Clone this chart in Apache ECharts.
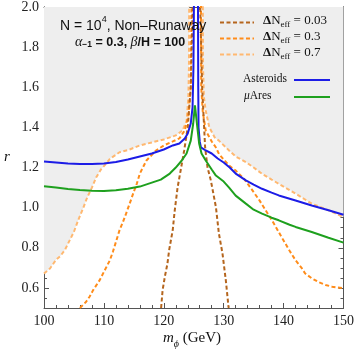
<!DOCTYPE html>
<html><head><meta charset="utf-8">
<script src="https://cdn.jsdelivr.net/npm/echarts@6/dist/echarts.min.js"></script>
<style>html,body{margin:0;padding:0;background:#fff}#c{width:357px;height:349px}</style>
</head><body><div id="c"></div>
<script>
// ---- data ----
const mTicks = [100, 110, 120, 130, 140, 150];
const rTicks = [0.6, 0.8, 1.0, 1.2, 1.4, 1.6, 1.8, 2.0];

// Delta N_eff = 0.7 (upper boundary of the grey excluded region)
const dn07 = [[100,0.672],[101,0.697],[102,0.74],[102.7,0.758],[103.5,0.79],[104.3,0.838],[105,0.88],[105.7,0.937],[106.5,0.995],[107.2,1.05],[108,1.1],[108.7,1.15],[109.5,1.19],[110.4,1.22],[111,1.243],[112.6,1.276],[114.3,1.29],[116,1.31],[118,1.325],[120,1.34],[122,1.36],[123.1,1.384],[123.8,1.43],[124.1,1.55],[124.2,1.7],[124.25,2.1],
  [126.5,2.1],[126.55,1.7],[126.7,1.55],[127,1.483],[127.6,1.40],[128.5,1.35],[129.2,1.334],[130.9,1.285],[132,1.255],[133.7,1.227],[135,1.2],[136.4,1.169],[138,1.14],[139.2,1.119],[142,1.07],[144.7,1.02],[147.5,0.987],[150,0.953]];
// Delta N_eff = 0.3
const dn03 = [[106,0.5],[107,0.53],[107.6,0.556],[108.2,0.589],[109.3,0.639],[110,0.68],[111,0.738],[111.5,0.78],[112.1,0.838],[112.6,0.887],[113.2,0.93],[113.7,0.97],[114.3,1.02],[115,1.08],[115.5,1.12],[116,1.17],[117.1,1.235],[118.7,1.285],[120,1.31],[121.5,1.33],[122.6,1.345],[123.5,1.385],[124.1,1.46],[124.5,1.6],[124.65,2.1],
  [126.2,2.1],[126.25,1.6],[126.5,1.48],[127,1.384],[128,1.33],[128.7,1.30],[129.2,1.268],[130,1.24],[130.9,1.21],[132,1.185],[133.5,1.14],[134.8,1.086],[136,1.035],[137,0.987],[138,0.94],[138.7,0.904],[139.8,0.846],[140.3,0.821],[141,0.785],[142,0.738],[143,0.70],[143.6,0.672],[144.7,0.648],[145.8,0.63],[147,0.615],[148.1,0.606],[150,0.598]];
// Delta N_eff = 0.03
const dn003 = [[119.55,0.5],[119.8,0.589],[120.2,0.66],[120.6,0.72],[120.9,0.79],[121.2,0.84],[121.5,0.89],[121.8,0.98],[122.3,1.1],[122.9,1.2],[123.4,1.285],[124,1.4],[124.5,1.6],[124.9,2.1],
  [126,2.1],[126.4,1.6],[126.9,1.3],[127.3,1.2],[127.85,1.136],[128.4,1.05],[128.7,1.003],[129.2,0.871],[129.8,0.771],[130.35,0.639],[130.8,0.506],[130.85,0.5]];
// Asteroids
const asteroids = [[100,1.23],[102,1.225],[104,1.22],[106,1.217],[108,1.217],[110,1.22],[112,1.228],[114,1.24],[116,1.255],[118,1.27],[120,1.29],[121.5,1.31],[122.6,1.32],[123.5,1.345],[124,1.37],[124.5,1.42],[124.8,1.5],[124.95,1.7],[125.05,2.1],
  [125.7,2.1],[125.75,1.6],[125.8,1.4],[126,1.33],[126.2,1.30],[127,1.285],[128,1.27],[129,1.245],[130,1.225],[131,1.2],[132,1.17],[133.7,1.136],[135,1.115],[136.4,1.094],[138,1.075],[139.2,1.061],[142,1.036],[144.7,1.011],[147.5,0.987],[150,0.965]];
// muAres
const muAres = [[100,1.107],[102,1.1],[104,1.093],[106,1.088],[108,1.084],[110,1.083],[112,1.087],[114,1.094],[116,1.105],[118,1.125],[119.5,1.14],[121,1.17],[122,1.2],[123,1.235],[123.8,1.27],[124.5,1.334],[124.9,1.417],[125.2,1.51],[125.4,1.51],
  [125.6,1.4],[125.9,1.32],[126.3,1.27],[127,1.235],[128,1.19],[128.7,1.16],[130,1.13],[130.9,1.10],[132,1.06],[133.7,1.02],[135,0.99],[136.4,0.97],[138,0.95],[139.2,0.937],[141,0.915],[142,0.904],[144.7,0.879],[147.5,0.85],[150,0.826]];

// ---- derived ----
const rMinor = [];
for (let i = 10; i <= 40; i++) { const v = +(i * 0.05).toFixed(2); if (!rTicks.some(t => Math.abs(t - v) < 1e-6)) rMinor.push(v); }
const fillData = dn07.map(p => [p[0], Math.min(p[1], 2.0)]);

const frame = '#555';
const serif = '"Liberation Serif", "DejaVu Serif", serif';
const sans = '"Liberation Sans", Arial, sans-serif';

function xAx(pos, labels) {
  return { type: 'value', position: pos, min: 100, max: 150, interval: 10,
    axisLine: { show: true, onZero: false, lineStyle: { color: frame, width: 1 } },
    axisTick: { show: true, inside: true, length: 5, lineStyle: { color: frame } },
    minorTick: { show: true, splitNumber: 5, length: 3, lineStyle: { color: frame } },
    axisLabel: { show: labels, margin: 6, color: '#222', fontFamily: serif, fontSize: 14 },
    splitLine: { show: false }, minorSplitLine: { show: false } };
}
function yAx(pos, labels, ticks, len) {
  return { type: 'value', position: pos, min: 0.5, max: 2.0, interval: 0.1,
    axisLine: { show: true, onZero: false, lineStyle: { color: frame, width: 1 } },
    axisTick: { show: true, inside: true, length: len, customValues: ticks, lineStyle: { color: frame } },
    axisLabel: { show: labels, customValues: ticks, margin: 5, color: '#222', fontFamily: serif, fontSize: 14,
      formatter: v => v.toFixed(1) },
    splitLine: { show: false } };
}
function dashed(data, color) {
  return { type: 'line', data, showSymbol: false, symbol: 'none', clip: true, silent: true,
    lineStyle: { color, width: 2, type: [4, 2.5] }, z: 3 };
}
function solid(data, color) {
  return { type: 'line', data, showSymbol: false, symbol: 'none', clip: true, silent: true,
    lineStyle: { color, width: 2 }, z: 4 };
}
const cDark = '#b5651d', cMid = '#ff8c1a', cLight = '#ffb870', cBlue = '#1c1ce6', cGreen = '#1ea01e';

function legRich() {
  return { d: { fontFamily: serif, fontWeight: 'bold', fontSize: 13, fill: '#111', lineHeight: 16, verticalAlign: 'bottom' },
           n: { fontFamily: serif, fontSize: 13, fill: '#111', lineHeight: 16, verticalAlign: 'bottom' },
           e: { fontFamily: serif, fontSize: 9, fill: '#111', lineHeight: 16, verticalAlign: 'bottom', padding: [0, 0, -2, 0] } };
}

const chart = echarts.init(document.getElementById('c'), null, { renderer: 'canvas' });
chart.setOption({
  animation: false,
  backgroundColor: '#fff',
  grid: { left: 44, right: 12, top: 6, bottom: 41, containLabel: false },
  xAxis: [xAx('bottom', true), xAx('top', false)],
  yAxis: [yAx('left', true, rTicks, 5), yAx('left', false, rMinor, 3), yAx('right', false, rTicks, 5), yAx('right', false, rMinor, 3)],
  series: [
    { type: 'line', data: fillData, showSymbol: false, symbol: 'none', silent: true, clip: true,
      lineStyle: { width: 0, opacity: 0 }, areaStyle: { color: '#eeeeee', opacity: 1, origin: 'end' }, z: 1 },
    dashed(dn07, cLight),
    dashed(dn03, cMid),
    dashed(dn003, cDark),
    solid(asteroids, cBlue),
    solid(muAres, cGreen)
  ],
  graphic: [
    { type: 'text', left: 60, top: 15, z: 10, style: {
      text: '{a|N = 10}{s|4}{a|, Non–Runaway}',
      rich: { a: { fontFamily: sans, fontSize: 14, fill: '#111', lineHeight: 18, verticalAlign: 'bottom' },
              s: { fontFamily: sans, fontSize: 9, fill: '#111', lineHeight: 18, verticalAlign: 'top' } } } },
    { type: 'text', left: 75, top: 35, z: 10, style: {
      text: '{g|α}{sub|−1}{b| = 0.3, }{g|β}{b|/H = 100}',
      rich: { g: { fontFamily: serif, fontStyle: 'italic', fontSize: 14, fill: '#111', lineHeight: 16, verticalAlign: 'bottom' },
              sub: { fontFamily: sans, fontWeight: 'bold', fontSize: 8.5, fill: '#111', lineHeight: 16, verticalAlign: 'bottom' },
              b: { fontFamily: sans, fontWeight: 'bold', fontSize: 12.5, fill: '#111', lineHeight: 16, verticalAlign: 'bottom' } } } },
    // legend: dashed samples
    { type: 'line', z: 10, shape: { x1: 220, y1: 22.5, x2: 254, y2: 22.5 }, style: { stroke: cDark, lineWidth: 2, lineDash: [4, 2.5] } },
    { type: 'line', z: 10, shape: { x1: 220, y1: 38.5, x2: 254, y2: 38.5 }, style: { stroke: cMid, lineWidth: 2, lineDash: [4, 2.5] } },
    { type: 'line', z: 10, shape: { x1: 220, y1: 54.5, x2: 254, y2: 54.5 }, style: { stroke: cLight, lineWidth: 2, lineDash: [4, 2.5] } },
    { type: 'text', left: 263, top: 14, z: 10, style: { text: '{d|Δ}{n|N}{e|eff}{n| = 0.03}', rich: legRich() } },
    { type: 'text', left: 263, top: 30, z: 10, style: { text: '{d|Δ}{n|N}{e|eff}{n| = 0.3}', rich: legRich() } },
    { type: 'text', left: 263, top: 46, z: 10, style: { text: '{d|Δ}{n|N}{e|eff}{n| = 0.7}', rich: legRich() } },
    { type: 'text', right: 70, top: 73, z: 10, style: { text: 'Asteroids', fontFamily: serif, fontSize: 11.5, fill: '#111' } },
    { type: 'line', z: 10, shape: { x1: 294, y1: 80, x2: 330, y2: 80 }, style: { stroke: cBlue, lineWidth: 2 } },
    { type: 'text', left: 244, top: 90, z: 10, style: { text: '{m|μ}{n|Ares}',
      rich: { m: { fontFamily: serif, fontStyle: 'italic', fontSize: 11.5, fill: '#111' }, n: { fontFamily: serif, fontSize: 11.5, fill: '#111' } } } },
    { type: 'line', z: 10, shape: { x1: 294, y1: 97, x2: 330, y2: 97 }, style: { stroke: cGreen, lineWidth: 2 } },
    // axis names
    { type: 'text', left: 4, top: 150, z: 10, style: { text: 'r', fontFamily: serif, fontStyle: 'italic', fontSize: 15, fill: '#111' } },
    { type: 'text', left: 163, top: 331, z: 10, style: { text: '{m|m}{p|ϕ}{g| (GeV)}',
      rich: { m: { fontFamily: serif, fontStyle: 'italic', fontSize: 15, fill: '#111', lineHeight: 18, verticalAlign: 'bottom' },
              p: { fontFamily: serif, fontStyle: 'italic', fontSize: 10, fill: '#111', lineHeight: 18, verticalAlign: 'bottom', padding: [0, 0, -3, 0] },
              g: { fontFamily: serif, fontSize: 15, fill: '#111', lineHeight: 18, verticalAlign: 'bottom' } } } }
  ]
});
</script></body></html>
